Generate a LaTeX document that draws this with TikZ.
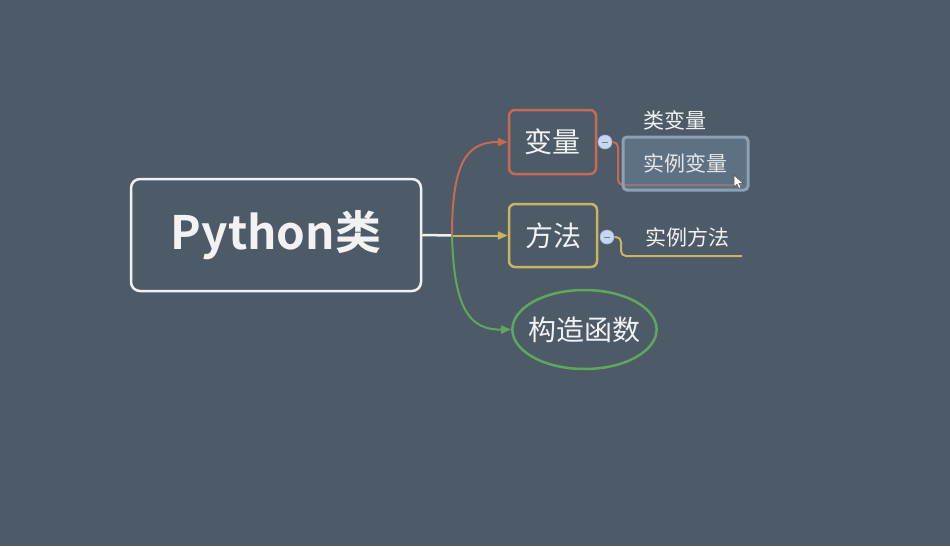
\documentclass[tikz,border=0pt]{standalone}
\usepackage{fontspec}
\setmainfont{Noto Sans CJK SC}
\newfontfamily\cjkb{Noto Sans CJK SC Bold}
\usetikzlibrary{arrows.meta,shapes.geometric}
\definecolor{bg}{HTML}{4D5A68}
\definecolor{wline}{HTML}{F0F0F0}
\definecolor{redc}{HTML}{C86A53}
\definecolor{yelc}{HTML}{C9B560}
\definecolor{grnc}{HTML}{5FA75C}
\definecolor{txt}{HTML}{F2F2F2}
\definecolor{collfill}{HTML}{C8D7F0}
\definecolor{collline}{HTML}{9FB4D8}
\definecolor{selfill}{HTML}{6A8196}
\definecolor{selline}{HTML}{8DA0B4}
\tikzset{
  topicbox/.style={draw, line width=2.5pt, rounded corners=6pt, text=txt, font=\fontsize{28}{30}\selectfont, inner sep=0pt},
  subtext/.style={text=txt, font=\fontsize{21}{23}\selectfont, inner sep=0pt},
  collapse/.style={circle, draw=collline, line width=0.6pt, fill=collfill, minimum size=14pt, inner sep=0pt},
  branch/.style={line width=2pt},
  tip/.style={-{Triangle[length=10pt,width=8pt]}}
}
\begin{document}
\begin{tikzpicture}[x=1pt,y=-1pt]
\fill[bg] (0,0) rectangle (950,546);
\useasboundingbox (0,0) rectangle (950,546);

\node[draw=wline, line width=2.5pt, rounded corners=9pt, minimum width=290pt, minimum height=112pt, text=txt, font=\cjkb\fontsize{46}{48}\selectfont, inner sep=0pt] (main) at (276,235) {Python类};

\node[topicbox, draw=redc, minimum width=87pt, minimum height=64pt] (var) at (552.5,142) {变量};
\node[topicbox, draw=yelc, minimum width=88pt, minimum height=63pt] (meth) at (553,235.5) {方法};
\node[topicbox, draw=grnc, ellipse, inner xsep=-5pt, inner ysep=0pt, minimum height=79pt] (ctor) at (584.5,329.5) {构造函数};

\coordinate (hub) at (452,235.5);
\draw[wline, line width=2.5pt] (main.east) -- (hub);
\draw[branch, redc, tip] (hub) .. controls (452,160) and (468,142) .. (var.west);
\draw[branch, yelc, tip] (hub) -- (meth.west);
\draw[branch, grnc, tip] (hub) .. controls (454,310) and (470,330) .. (ctor.west);

\node[collapse] (c1) at (605,142) {};
\node[collapse] (c2) at (607,237) {};
\draw[collline!70!black, line width=0.8pt] (c1.center) ++(-3,0) -- ++(6,0);
\draw[collline!70!black, line width=0.8pt] (c2.center) ++(-3,0) -- ++(6,0);

\node[subtext] (cv) at (675,120) {类变量};

\coordinate (ivend) at (742,185);
\draw[branch, redc, rounded corners=5pt] (c1.east) -| (618,185) -- (ivend);

\node[fill=selfill, fill opacity=0.6, draw=selline, line width=3pt, rounded corners=4pt, minimum width=125pt, minimum height=53pt, text opacity=1, text=txt!90!selfill, font=\fontsize{21}{23}\selectfont, inner sep=0pt] (iv) at (685.5,163.5) {实例变量};

\coordinate (imend) at (742,256);
\draw[branch, yelc, rounded corners=5pt] (c2.east) -| (621,256) -- (imend);
\node[subtext] (im) at (687,237) {实例方法};

% mouse cursor
\draw[fill=white, draw=black!70, line width=0.5pt, shift={(734,175)}] (0,0) -- (0,12) -- (3,9.2) -- (5,13.5) -- (7,12.6) -- (5,8.3) -- (9,8.3) -- cycle;
\end{tikzpicture}
\end{document}
